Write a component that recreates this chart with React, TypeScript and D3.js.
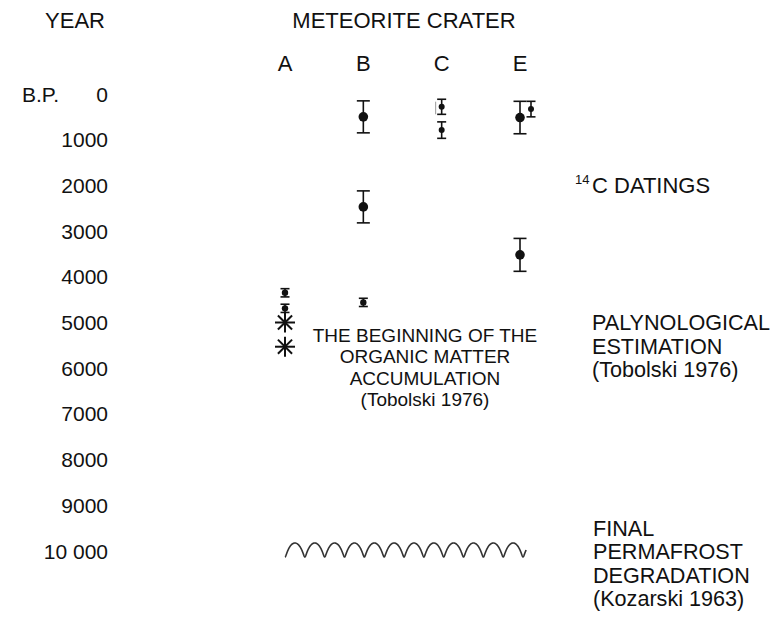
import React from "react";
import * as d3 from "d3";

// time axis (years B.P.)
const yearTicks = [0, 1000, 2000, 3000, 4000, 5000, 6000, 7000, 8000, 9000, 10000];
const yearLabels = ["0", "1000", "2000", "3000", "4000", "5000", "6000", "7000", "8000", "9000", "10 000"];

const craters = ["A", "B", "C", "E"];

// 14C datings: crater, lane inside the crater column, age, +/- error, marker size
const c14Crater = ["B", "C", "C", "E", "E", "B", "E"];
const c14Lane = [0, 0, 0, 0, 1, 0, 0];
const c14Age = [500, 280, 790, 515, 330, 2470, 3520];
const c14Err = [350, 165, 180, 355, 170, 350, 360];
const c14Kind = ["big", "small", "small", "big", "small", "big", "big"];

// faint pencil mark next to crater C
const markCrater = ["C"];
const markFrom = [168];
const markTo = [444];

// beginning of organic matter accumulation (palynological)
const palCrater = ["A", "A", "B"];
const palAge = [4350, 4690, 4560];
const palErr = [90, 90, 90];

const starCrater = ["A", "A"];
const starAge = [5000, 5530];

// final permafrost degradation
const permafrostAge = 10000;

const W = 780;
const H = 622;
const font = "'Liberation Sans', Arial, sans-serif";

export default function App() {
  const y = d3.scaleLinear().domain([0, 10000]).range([94, 551]);
  const x = d3.scalePoint<string>().domain(craters).range([285, 520]);
  const lane = d3.scalePoint<number>().domain([0, 1]).range([0, 11]);

  // wavy line (rounded arches) marking the permafrost degradation, spanning columns A..E
  const wx0 = x("A")!;
  const wx1 = x("E")! + 8;
  const th0 = Math.PI;
  const th1 = 25.5 * Math.PI;
  const per = (wx1 - wx0) / ((th1 - th0) / (2 * Math.PI));
  const amp = 7;
  const skew = (0.6 * per) / (2 * Math.PI);
  const wavePts: [number, number][] = d3.range(0, 801).map((i) => {
    const th = th0 + (i / 800) * (th1 - th0);
    return [
      wx0 + (per * (th - th0)) / (2 * Math.PI) + skew * Math.sin(th),
      y(permafrostAge) - 1 - amp * Math.cos(th),
    ];
  });
  const waveLine = d3.line()(wavePts) || "";

  const errBar = (cx: number, a: number, e: number, cap: number, r: number, key: string) => (
    <g key={key} stroke="#111" strokeWidth={1.6}>
      <line x1={cx} x2={cx} y1={y(a - e)} y2={y(a + e)} />
      <line x1={cx - cap / 2} x2={cx + cap / 2} y1={y(a - e)} y2={y(a - e)} />
      <line x1={cx - cap / 2} x2={cx + cap / 2} y1={y(a + e)} y2={y(a + e)} />
      <circle cx={cx} cy={y(a)} r={r} fill="#111" stroke="none" />
    </g>
  );

  const star = (cx: number, cy: number, r: number, key: string) => (
    <g key={key} stroke="#111" strokeWidth={2}>
      {d3.range(4).map((k) => {
        const ang = (k * Math.PI) / 4;
        return (
          <line
            key={k}
            x1={cx - r * Math.cos(ang)}
            y1={cy - r * Math.sin(ang)}
            x2={cx + r * Math.cos(ang)}
            y2={cy + r * Math.sin(ang)}
          />
        );
      })}
    </g>
  );

  return (
    <svg width={W} height={H} style={{ position: "absolute", left: 0, top: 0, background: "#fff" }} fontFamily={font}>
      <rect width={W} height={H} fill="#fff" />

      {/* headers */}
      <text x={75} y={20} fontSize={22} textAnchor="middle" dominantBaseline="central" fill="#111">YEAR</text>
      <text x={404} y={20} fontSize={22} textAnchor="middle" dominantBaseline="central" fill="#111">METEORITE CRATER</text>
      {craters.map((c) => (
        <text key={c} x={x(c)} y={63} fontSize={22} textAnchor="middle" dominantBaseline="central" fill="#111">{c}</text>
      ))}

      {/* year axis labels */}
      <text x={22} y={y(0)} fontSize={21} dominantBaseline="central" fill="#111">B.P.</text>
      {yearTicks.map((v, i) => (
        <text key={v} x={108} y={y(v)} fontSize={21} textAnchor="end" dominantBaseline="central" fill="#111">
          {yearLabels[i]}
        </text>
      ))}

      {/* 14C datings */}
      {c14Age.map((a, i) => {
        const cx = x(c14Crater[i])! + lane(c14Lane[i])!;
        const big = c14Kind[i] === "big";
        return errBar(cx, a, c14Err[i], big ? 13 : 9, big ? 4.8 : 3, "c" + i);
      })}
      {markFrom.map((v, i) => (
        <line key={"m" + i} x1={x(markCrater[i])! - 6} x2={x(markCrater[i])! - 6} y1={y(v)} y2={y(markTo[i])} stroke="#999" strokeWidth={1} />
      ))}

      {/* palynological estimation */}
      {palAge.map((a, i) => errBar(x(palCrater[i])!, a, palErr[i], 9, 3.2, "p" + i))}
      {starAge.map((a, i) => star(x(starCrater[i])!, y(a), 10, "s" + i))}

      {/* permafrost */}
      <path d={waveLine} fill="none" stroke="#333" strokeWidth={1.6} />

      {/* organic matter note */}
      <g fontSize={19} textAnchor="middle" fill="#111">
        {["THE BEGINNING OF THE", "ORGANIC MATTER", "ACCUMULATION", "(Tobolski 1976)"].map((t, i) => (
          <text key={i} x={425} y={335 + i * 21.5} dominantBaseline="central">{t}</text>
        ))}
      </g>

      {/* right-hand annotations */}
      <text x={575} y={179} fontSize={13} dominantBaseline="central" fill="#111">14</text>
      <text x={592} y={y(2000)} fontSize={22} dominantBaseline="central" fill="#111">C DATINGS</text>

      <g fontSize={21.6} fill="#111">
        {["PALYNOLOGICAL", "ESTIMATION", "(Tobolski 1976)"].map((t, i) => (
          <text key={i} x={592} y={y(5000) + i * 23.5} dominantBaseline="central">{t}</text>
        ))}
      </g>
      <g fontSize={21.6} fill="#111">
        {["FINAL", "PERMAFROST", "DEGRADATION", "(Kozarski 1963)"].map((t, i) => (
          <text key={i} x={593} y={y(permafrostAge) - 23 + i * 23.5} dominantBaseline="central">{t}</text>
        ))}
      </g>
    </svg>
  );
}
